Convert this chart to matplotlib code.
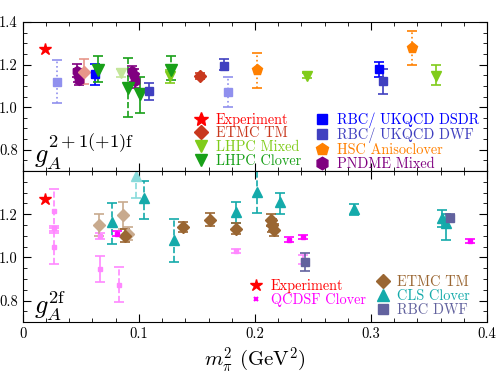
import numpy as np
import matplotlib
matplotlib.use('Agg')
import matplotlib.pyplot as plt
from matplotlib.lines import Line2D
from matplotlib.ticker import MultipleLocator, FixedLocator

plt.rcParams['font.family'] = 'serif'
plt.rcParams['font.serif'] = ['cmr10', 'DejaVu Serif']
plt.rcParams['mathtext.fontset'] = 'cm'
plt.rcParams['axes.formatter.use_mathtext'] = True

# ---- top panel data: 2+1(+1) flavours  (x, y, err_lo, err_hi) ----
exp_x = [0.0195]
exp_y = [1.2723]

etmc_x = [0.153]
etmc_y = [1.146]
etmc_lo = [0.013]
etmc_hi = [0.013]
etmc_l_x = [0.053]
etmc_l_y = [1.167]
etmc_l_lo = [0.06]
etmc_l_hi = [0.06]

lhpc_mix_x = [0.127, 0.2445, 0.3556]
lhpc_mix_y = [1.146, 1.149, 1.149]
lhpc_mix_lo = [0.03, 0.01, 0.045]
lhpc_mix_hi = [0.03, 0.01, 0.048]
lhpc_mix_l_x = [0.0845]
lhpc_mix_l_y = [1.161]
lhpc_mix_l_lo = [0.02]
lhpc_mix_l_hi = [0.02]

lhpc_clo_x = [0.0645, 0.091, 0.101, 0.1275]
lhpc_clo_y = [1.175, 1.09, 1.06, 1.173]
lhpc_clo_lo = [0.055, 0.138, 0.085, 0.043]
lhpc_clo_hi = [0.065, 0.14, 0.083, 0.066]
lhpc_clo_ls = ['-', '--', '-', '--']

dsdr_x = [0.062, 0.307]
dsdr_y = [1.155, 1.18]
dsdr_lo = [0.05, 0.037]
dsdr_hi = [0.05, 0.034]

dwf_x = [0.109, 0.173, 0.31]
dwf_y = [1.075, 1.192, 1.122]
dwf_lo = [0.04, 0.015, 0.058]
dwf_hi = [0.04, 0.034, 0.058]
dwf_l_x = [0.0294, 0.177]
dwf_l_y = [1.12, 1.073]
dwf_l_lo = [0.10, 0.073]
dwf_l_hi = [0.10, 0.07]

hsc_x = [0.202, 0.335]
hsc_y = [1.173, 1.28]
hsc_lo = [0.083, 0.08]
hsc_hi = [0.084, 0.078]

pndme_x = [0.0465, 0.0475, 0.0485, 0.0945, 0.0955, 0.0965]
pndme_y = [1.17, 1.15, 1.13, 1.17, 1.15, 1.125]
pndme_lo = [0.03, 0.03, 0.025, 0.025, 0.03, 0.035]
pndme_hi = [0.035, 0.03, 0.03, 0.025, 0.03, 0.03]

# ---- bottom panel data: 2 flavours ----
qcdsf_x = [0.0815, 0.229, 0.2415, 0.3857]
qcdsf_y = [1.11, 1.082, 1.094, 1.076]
qcdsf_err = [0.012, 0.01, 0.01, 0.01]
qcdsf_l_x = [0.027, 0.027, 0.027, 0.0665, 0.0665, 0.0825, 0.184, 0.241]
qcdsf_l_y = [1.213, 1.135, 1.05, 1.098, 0.945, 0.873, 1.029, 0.99]
qcdsf_l_lo = [0.10, 0.015, 0.08, 0.015, 0.06, 0.08, 0.01, 0.02]
qcdsf_l_hi = [0.105, 0.012, 0.085, 0.015, 0.06, 0.082, 0.01, 0.02]
qcdsf_l_ls = ['--', '--', '--', '-', '-', '--', '-', '-']

etmc2_x = [0.088, 0.138, 0.161, 0.184, 0.2135, 0.215, 0.2165]
etmc2_y = [1.10, 1.141, 1.175, 1.133, 1.172, 1.149, 1.126]
etmc2_err = [0.03, 0.025, 0.03, 0.025, 0.028, 0.03, 0.028]
etmc2_l_x = [0.066, 0.086, 0.091]
etmc2_l_y = [1.149, 1.195, 1.11]
etmc2_l_err = [0.05, 0.062, 0.03]

cls_x = [0.077, 0.1045, 0.130, 0.184, 0.202, 0.222, 0.2855, 0.3615, 0.365]
cls_y = [1.164, 1.273, 1.079, 1.211, 1.304, 1.257, 1.222, 1.18, 1.157]
cls_lo = [0.10, 0.097, 0.10, 0.05, 0.10, 0.057, 0.027, 0.04, 0.075]
cls_hi = [0.086, 0.082, 0.10, 0.044, 0.12, 0.043, 0.023, 0.04, 0.043]
cls_ls = ['--', '--', '--', '-', '--', '-', '-', '-', '-']
cls_l_x = [0.0975]
cls_l_y = [1.375]
cls_l_lo = [0.10]
cls_l_hi = [0.10]

rbc2_x = [0.243, 0.368]
rbc2_y = [0.978, 1.183]
rbc2_lo = [0.04, 0.015]
rbc2_hi = [0.04, 0.02]


def draw(ax, x, y, lo, hi, color, marker, ms, ls='-', cs=3.5):
    if isinstance(ls, str):
        ls = [ls] * len(x)
    for xi, yi, l, h, s in zip(x, y, lo, hi, ls):
        eb = ax.errorbar([xi], [yi], yerr=[[l], [h]], fmt=marker, color=color,
                         ms=ms, capsize=cs, capthick=1.2, elinewidth=1.2,
                         mec=color)
        eb[-1][0].set_linestyle(s)


fig = plt.figure(figsize=(4.96, 3.75), dpi=100)
ax1 = fig.add_axes([0.046, 0.544, 0.936, 0.397])
ax2 = fig.add_axes([0.046, 0.141, 0.936, 0.403], sharex=ax1)

# top panel
red = '#ff0000'
c_etmc, c_etmc_l = '#c8381e', '#e8968a'
c_mix, c_mix_l = '#80cc1a', '#c4e69a'
c_clo = '#18a018'
c_dsdr = '#0000ff'
c_dwf, c_dwf_l = '#4040c0', '#9090ee'
c_hsc = '#ff8000'
c_pnd = '#800080'

ax1.plot(exp_x, exp_y, '*', color=red, ms=9)
draw(ax1, dwf_l_x, dwf_l_y, dwf_l_lo, dwf_l_hi, c_dwf_l, 's', 6, ':')
draw(ax1, pndme_x, pndme_y, pndme_lo, pndme_hi, c_pnd, 'h', 7)
draw(ax1, etmc_l_x, etmc_l_y, etmc_l_lo, etmc_l_hi, c_etmc_l, 'D', 6)
draw(ax1, dsdr_x, dsdr_y, dsdr_lo, dsdr_hi, c_dsdr, 's', 6)
draw(ax1, lhpc_mix_l_x, lhpc_mix_l_y, lhpc_mix_l_lo, lhpc_mix_l_hi, c_mix_l, 'v', 7)
draw(ax1, lhpc_mix_x, lhpc_mix_y, lhpc_mix_lo, lhpc_mix_hi, c_mix, 'v', 7)
draw(ax1, lhpc_clo_x, lhpc_clo_y, lhpc_clo_lo, lhpc_clo_hi, c_clo, 'v', 8, lhpc_clo_ls)
draw(ax1, dwf_x, dwf_y, dwf_lo, dwf_hi, c_dwf, 's', 6)
draw(ax1, etmc_x, etmc_y, etmc_lo, etmc_hi, c_etmc, 'D', 6)
draw(ax1, hsc_x, hsc_y, hsc_lo, hsc_hi, c_hsc, 'p', 8, ':')

h1 = [Line2D([], [], ls='', marker='*', color=red, ms=10),
      Line2D([], [], ls='', marker='D', color=c_etmc, ms=7),
      Line2D([], [], ls='', marker='v', color=c_mix, ms=9),
      Line2D([], [], ls='', marker='v', color=c_clo, ms=9),
      Line2D([], [], ls='', marker='s', color=c_dsdr, ms=7),
      Line2D([], [], ls='', marker='s', color=c_dwf, ms=7),
      Line2D([], [], ls='', marker='p', color=c_hsc, ms=9),
      Line2D([], [], ls='', marker='h', color=c_pnd, ms=9)]
l1 = ['Experiment', 'ETMC TM', 'LHPC Mixed', 'LHPC Clover',
      'RBC/ UKQCD DSDR', 'RBC/ UKQCD DWF', 'HSC Anisoclover', 'PNDME Mixed']
cols1 = [red, c_etmc, c_mix, c_clo, c_dsdr, c_dwf, c_hsc, c_pnd]
leg = ax1.legend(h1, l1, ncol=2, loc='lower right', bbox_to_anchor=(1.004, -0.065),
                 frameon=False, fontsize=10.3, handlelength=1.0, handletextpad=0.5,
                 labelspacing=0.0, columnspacing=1.0, borderpad=0.2)
for t, c in zip(leg.get_texts(), cols1):
    t.set_color(c)
ax1.text(0.025, 0.05, r'$g_A^{\rm 2+1(+1)f}$', transform=ax1.transAxes, fontsize=19)

# bottom panel
c_q, c_q_l = '#ff00ff', '#ff88ff'
c_e2, c_e2_l = '#9a6632', '#c8aa8e'
c_cls, c_cls_l = '#14aaaa', '#88dada'
c_rbc = '#62629e'

ax2.plot(exp_x, exp_y, '*', color=red, ms=9)
draw(ax2, qcdsf_l_x, qcdsf_l_y, qcdsf_l_lo, qcdsf_l_hi, c_q_l, 's', 2.5, qcdsf_l_ls)
draw(ax2, etmc2_l_x, etmc2_l_y, etmc2_l_err, etmc2_l_err, c_e2_l, 'D', 6)
draw(ax2, cls_l_x, cls_l_y, cls_l_lo, cls_l_hi, c_cls_l, '^', 7, '--')
draw(ax2, cls_x, cls_y, cls_lo, cls_hi, c_cls, '^', 7, cls_ls)
draw(ax2, etmc2_x, etmc2_y, etmc2_err, etmc2_err, c_e2, 'D', 6)
draw(ax2, qcdsf_x, qcdsf_y, qcdsf_err, qcdsf_err, c_q, 's', 2.5)
draw(ax2, rbc2_x, rbc2_y, rbc2_lo, rbc2_hi, c_rbc, 's', 6)

h2a = [Line2D([], [], ls='', marker='*', color=red, ms=9),
       Line2D([], [], ls='', marker='x', color=c_q, ms=3, mew=1.5)]
leg2a = ax2.legend(h2a, ['Experiment', 'QCDSF Clover'], loc='lower left',
                   bbox_to_anchor=(0.466, 0.035), frameon=False, fontsize=10.3,
                   handlelength=1.0, handletextpad=0.5, labelspacing=0.0,
                   borderpad=0.2)
for t, c in zip(leg2a.get_texts(), [red, c_q]):
    t.set_color(c)
ax2.add_artist(leg2a)
h2b = [Line2D([], [], ls='', marker='D', color=c_e2, ms=7),
       Line2D([], [], ls='', marker='^', color=c_cls, ms=9),
       Line2D([], [], ls='', marker='s', color=c_rbc, ms=7)]
leg2b = ax2.legend(h2b, ['ETMC TM', 'CLS Clover', 'RBC DWF'], loc='lower left',
                   bbox_to_anchor=(0.738, -0.03), frameon=False, fontsize=10.3,
                   handlelength=1.0, handletextpad=0.5, labelspacing=0.02,
                   borderpad=0.2)
for t, c in zip(leg2b.get_texts(), [c_e2, c_cls, c_rbc]):
    t.set_color(c)
ax2.text(0.025, 0.05, r'$g_A^{\rm 2f}$', transform=ax2.transAxes, fontsize=19)

for ax in (ax1, ax2):
    ax.set_xlim(0, 0.4)
    ax.set_ylim(0.7, 1.4)
    ax.xaxis.set_major_locator(MultipleLocator(0.1))
    ax.xaxis.set_minor_locator(MultipleLocator(0.02))
    ax.yaxis.set_minor_locator(MultipleLocator(0.05))
    ax.tick_params(which='both', direction='in', top=True, right=True,
                   labelsize=10.5)
    ax.tick_params(which='major', length=6)
    ax.tick_params(which='minor', length=3)
ax1.yaxis.set_major_locator(FixedLocator([0.8, 1.0, 1.2, 1.4]))
ax2.yaxis.set_major_locator(FixedLocator([0.8, 1.0, 1.2]))
ax1.set_yticklabels(['0.8', '1.0', '1.2', '1.4'])
ax2.set_yticklabels(['0.8', '1.0', '1.2'])
ax1.tick_params(labelbottom=False)
ax2.set_xticks([0, 0.1, 0.2, 0.3, 0.4])
ax2.set_xticklabels(['0', '0.1', '0.2', '0.3', '0.4'])
ax2.set_xlabel(r'$m_\pi^2$ (GeV$^2$)', fontsize=15, labelpad=3)

fig.savefig('out.png', dpi=100)
